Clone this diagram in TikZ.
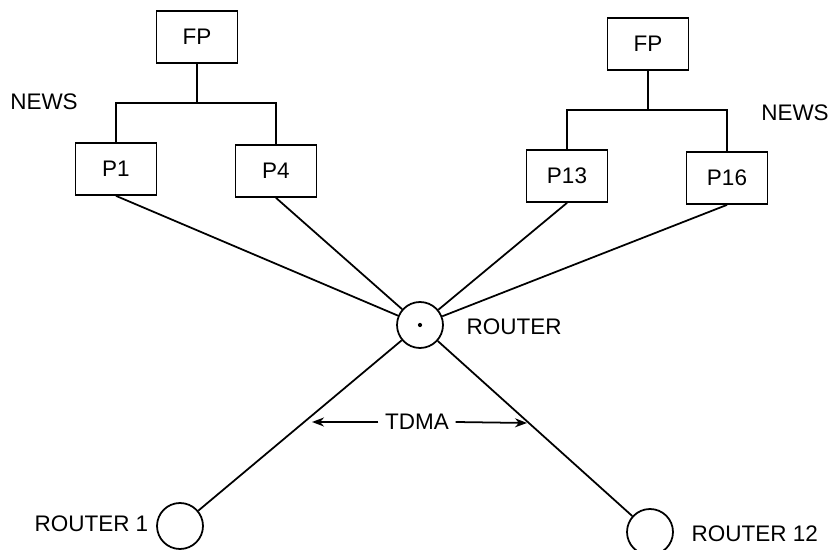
\documentclass[tikz,border=0pt]{standalone}
\usepackage{fontspec}
\setmainfont{Liberation Sans}
\usetikzlibrary{arrows.meta}

\begin{document}
\begin{tikzpicture}[x=0.02cm,y=-0.02cm,line width=1pt,
    font=\fontsize{12.8}{15}\selectfont,
    pbox/.style={draw,rectangle,minimum width=1.62cm,minimum height=1.04cm,inner sep=0pt},
    rnode/.style={draw,circle,minimum size=0.92cm,inner sep=0pt}]
      \useasboundingbox (0,0) rectangle (832,550);
      % left cluster
      \node[pbox] (fpL) at (197,37) {FP};
      \node[pbox] (p1) at (116,169) {P1};
      \node[pbox] (p4) at (276,171) {P4};
      \coordinate (jL) at (197,103);
      \draw (fpL.south)--(jL);
      \draw (p1.north) |- (jL) -| (p4.north);
      \node (newsL) at (44,102) {NEWS};
      % right cluster
      \node[pbox] (fpR) at (648,44) {FP};
      \node[pbox] (p13) at (567,176) {P13};
      \node[pbox] (p16) at (727,178) {P16};
      \coordinate (jR) at (648,110);
      \draw (fpR.south)--(jR);
      \draw (p13.north) |- (jR) -| (p16.north);
      \node (newsR) at (795,113) {NEWS};
      % routers
      \node[rnode] (rt) at (420,325) {};
      \fill (rt.center) circle (1.2pt);
      \node[anchor=west] (rtlab) at (460,327) {ROUTER};
      \node[rnode] (r1) at (180,526) {};
      \node[anchor=east] (r1lab) at (155,524) {ROUTER 1};
      \node[rnode] (r12) at (650,532) {};
      \node[anchor=west] (r12lab) at (685,534) {ROUTER 12};
      \draw (p1.south)--(rt);
      \draw (p4.south)--(rt);
      \draw (p13.south)--(rt);
      \draw (p16.south)--(rt);
      \draw (rt)--(r1);
      \draw (rt)--(r12);
      % TDMA span
      \node (tdma) at (417,422) {TDMA};
      \coordinate (tl) at (312,422);
      \coordinate (tr) at (527,423);
      \draw[-{Stealth[length=2.4mm,width=1.8mm]}] (tdma.west)--(tl);
      \draw[-{Stealth[length=2.4mm,width=1.8mm]}] (tdma.east)--(tr);
    \end{tikzpicture}
\end{document}
